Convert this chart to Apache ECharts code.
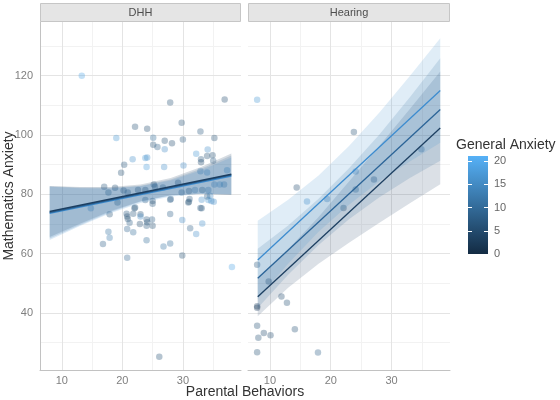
<!DOCTYPE html>
<html><head><meta charset="utf-8">
<script src="https://cdn.jsdelivr.net/npm/echarts@6/dist/echarts.min.js"></script>
<style>html,body{margin:0;padding:0;background:#fff}#c{width:560px;height:400px}</style>
</head><body><div id="c"></div>
<script>
// ---------- data ----------
const panels = ['DHH', 'Hearing'];
const xTitle = 'Parental Behaviors';
const yTitle = 'Mathematics Anxiety';
const legendTitle = 'General Anxiety';
const xMajorTicks = [10, 20, 30];
const xMinorTicks = [15, 25, 35];
const yMajorTicks = [40, 60, 80, 100, 120];
const yMinorTicks = [30, 50, 70, 90, 110, 130];
const legendTicks = [0, 5, 10, 15, 20];
const anxLimits = [0, 21.1];

const dhhX = [13.3,27.9,36.9,22.1,24.1,29.8,32.9,19.0,25.1,27.0,28.2,30.0,35.2,25.1,25.8,27.0,32.2,34.1,34.0,33.0,33.0,34.9,35.0,21.7,23.8,24.1,24.0,20.3,26.9,30.1,19.8,32.9,34.0,37.3,17.0,18.8,17.7,20.2,20.9,22.6,23.8,25.2,25.4,26.7,29.2,29.8,31.0,32.0,33.2,34.2,35.2,36.1,36.8,34.5,14.8,17.9,20.7,20.8,20.9,21.2,22.0,21.8,23.0,22.9,23.0,24.0,24.1,24.9,25.0,24.0,20.8,21.8,17.7,17.9,16.8,24.0,26.8,27.9,27.9,29.9,31.2,32.2,33.2,33.1,20.8,29.9,38.1,26.1,25.0,25.0,23.8,27.9,31.0,33.1,34.2,35.1,31.1,30.9,34.0,34.7,32.9,19.2,22.1,28.0];
const dhhY = [120.0,111.0,112.0,102.8,102.1,104.1,101.2,99.0,99.1,98.1,97.2,98.5,99.0,96.7,96.0,95.2,93.7,95.1,92.9,91.8,90.8,93.2,91.3,91.8,92.3,92.4,89.2,90.0,89.2,89.7,87.3,87.8,87.4,88.1,82.6,82.2,80.6,81.3,80.6,81.5,81.5,83.3,82.6,82.3,83.9,80.6,81.1,81.5,81.5,81.5,83.3,83.3,83.3,79.5,75.3,73.3,73.5,72.5,71.7,70.4,75.3,73.5,73.3,70.0,72.5,71.5,70.6,71.5,69.4,69.4,68.3,67.2,67.4,65.4,63.3,64.5,62.4,63.4,73.4,71.4,68.6,66.6,70.2,75.3,58.6,59.4,55.5,25.3,76.8,77.8,78.1,78.2,77.5,78.2,78.1,77.5,78.4,77.3,79.3,77.8,75.4,77.3,75.6,78.4];
const dhhAnx = [19,6,5,6,5,6,7,17,10,6,5,7,6,6,8,15,17,16,6,7,5,6,8,16,17,16,18,7,16,15,6,15,16,17,7,6,8,6,7,6,5,7,6,8,6,9,7,14,8,14,15,16,14,15,16,6,7,5,6,8,6,7,6,5,15,7,6,8,6,7,9,10,11,12,8,10,11,10,8,15,8,16,16,7,9,6,19,6,7,6,8,7,6,16,17,16,7,6,8,15,7,8,7,9];

const hearX = [7.9,23.8,14.4,24.1,27.1,24.1,34.9,16.1,19.4,22.1,7.9,9.8,11.9,12.8,7.9,7.9,7.9,9.0,8.1,10.1,14.1,7.9,17.9];
const hearY = [111.9,101.0,82.3,87.7,85.0,81.6,95.2,77.6,78.4,75.4,56.3,50.6,45.6,43.5,42.3,41.8,35.7,33.3,31.7,32.5,34.5,26.8,26.7];
const hearAnx = [17,6,5,15,7,10,12,16,14,6,7,5,5,6,4,3,6,5,6,5,6,6,8];

// fitted lines (x from 8 to 38)
const lineX = [8, 38];
const dhhLineLow = [74.2, 86.8];
const dhhLineMid = [73.9, 86.5];
const dhhLineHigh = [73.6, 86.2];
const hearLineLow = [45.5, 102.4];
const hearLineMid = [51.7, 108.6];
const hearLineHigh = [57.9, 115.0];

// confidence ribbons
const bandX = [8, 13, 18, 23, 28, 33, 38];
const dhhBandLowUp = [82.8, 82.5, 82.5, 83.3, 85.5, 89.2, 93.8];
const dhhBandLowDn = [65.6, 70.1, 74.3, 77.7, 79.7, 80.2, 79.8];
const dhhBandMidUp = [82.7, 82.3, 82.2, 82.9, 85.0, 88.6, 93.1];
const dhhBandMidDn = [65.1, 69.7, 74.0, 77.5, 79.6, 80.2, 79.9];
const dhhBandHighUp = [82.6, 82.1, 82.0, 82.7, 84.7, 88.1, 92.4];
const dhhBandHighDn = [64.6, 69.3, 73.6, 77.1, 79.3, 80.1, 80.0];
const hearBandLowUp = [52.1, 61.5, 72.4, 84.3, 96.4, 108.8, 121.4];
const hearBandLowDn = [38.9, 48.5, 56.6, 63.7, 70.4, 77.0, 83.4];
const hearBandMidUp = [61.7, 69.5, 78.5, 88.8, 100.2, 112.7, 125.9];
const hearBandMidDn = [41.7, 52.9, 62.9, 71.6, 79.0, 85.5, 91.3];
const hearBandHighUp = [71.1, 78.2, 86.4, 96.3, 107.6, 119.9, 132.6];
const hearBandHighDn = [44.7, 56.6, 67.4, 76.5, 84.4, 91.1, 97.4];

// ---------- styles ----------
const FONT = '"Liberation Sans", Arial, sans-serif';
const cLow = '#1d3f61', cMid = '#2b6497', cHigh = '#3d8ccf';
const xMin = 6.4, xMax = 39.6, yMin = 20.8, yMax = 138.1;

function pts(xs, ys, as) { return xs.map((x, i) => [x, ys[i], as[i]]); }
function linePts(ys) { return lineX.map((x, i) => [x, ys[i]]); }

function bandSeries(xi, yi, bands) {
  return {
    type: 'custom', xAxisIndex: xi, yAxisIndex: yi, z: 3, silent: true, clip: true,
    data: bands.map((b, i) => [bandX[0], b.dn[0], i]),
    renderItem: (params, api) => {
      const b = bands[params.dataIndex];
      const p = [];
      bandX.forEach((x, i) => p.push(api.coord([x, b.up[i]])));
      for (let i = bandX.length - 1; i >= 0; i--) p.push(api.coord([bandX[i], b.dn[i]]));
      return { type: 'polygon', shape: { points: p }, style: { fill: b.color, opacity: b.alpha } };
    }
  };
}
function lineSeries(xi, yi, ys, color, w) {
  return { type: 'line', xAxisIndex: xi, yAxisIndex: yi, data: linePts(ys), symbol: 'none', z: 4, silent: true,
    lineStyle: { color: color, width: w } };
}

function xAx(g, ticks, major) {
  return { gridIndex: g, type: 'value', min: xMin, max: xMax, z: major ? 1 : 0,
    axisLine: { show: major, onZero: false, lineStyle: { color: '#c2c2c2', width: 1 } },
    axisTick: { show: false, customValues: ticks },
    axisLabel: { show: major, customValues: ticks, color: '#7f7f7f', fontSize: 11, fontFamily: FONT, margin: 5 },
    splitLine: { show: true, showMinLine: true, showMaxLine: true, lineStyle: { color: major ? '#e4e4e4' : '#f2f2f2', width: 1 } } };
}
function yAx(g, ticks, major, showLine, showLabel) {
  return { gridIndex: g, type: 'value', min: yMin, max: yMax, z: major ? 1 : 0,
    axisLine: { show: showLine, onZero: false, lineStyle: { color: '#c2c2c2', width: 1 } },
    axisTick: { show: false, customValues: ticks },
    axisLabel: { show: showLabel, customValues: ticks, color: '#7f7f7f', fontSize: 11, fontFamily: FONT, margin: 7 },
    splitLine: { show: true, showMinLine: true, showMaxLine: true, lineStyle: { color: major ? '#e4e4e4' : '#f2f2f2', width: 1 } } };
}

const chart = echarts.init(document.getElementById('c'), null, { renderer: 'canvas' });
const option = {
  animation: false,
  backgroundColor: '#ffffff',
  textStyle: { fontFamily: FONT },
  grid: [
    { left: 40, top: 22, width: 201, height: 348 },
    { left: 248, top: 22, width: 202, height: 348 },
    { left: 468, top: 156, width: 20, height: 98 }
  ],
  xAxis: [xAx(0, xMajorTicks, true), xAx(0, xMinorTicks, false), xAx(1, xMajorTicks, true), xAx(1, xMinorTicks, false),
    { gridIndex: 2, type: 'category', data: ['anx'], show: false }],
  yAxis: [yAx(0, yMajorTicks, true, true, true), yAx(0, yMinorTicks, false, false, false),
    yAx(1, yMajorTicks, true, false, false), yAx(1, yMinorTicks, false, false, false),
    { gridIndex: 2, type: 'value', min: anxLimits[0], max: anxLimits[1], position: 'left', z: 10,
      axisLine: { show: false }, axisLabel: { show: false }, splitLine: { show: false },
      axisTick: { show: true, inside: true, length: 4, customValues: legendTicks, lineStyle: { color: '#ffffff', width: 1 } } },
    { gridIndex: 2, type: 'value', min: anxLimits[0], max: anxLimits[1], position: 'right', z: 10,
      axisLine: { show: false }, splitLine: { show: false },
      axisTick: { show: true, inside: true, length: 4, customValues: legendTicks, lineStyle: { color: '#ffffff', width: 1 } },
      axisLabel: { show: true, customValues: legendTicks, color: '#666666', fontSize: 11, fontFamily: FONT, margin: 6 } }
  ],
  visualMap: {
    type: 'continuous', show: false, min: anxLimits[0], max: anxLimits[1], dimension: 2,
    seriesIndex: [0, 1], inRange: { color: ['#132B43', '#56B1F7'] }
  },
  series: [
    { type: 'scatter', xAxisIndex: 0, yAxisIndex: 0, data: pts(dhhX, dhhY, dhhAnx), symbolSize: 6.5, z: 2, silent: true,
      itemStyle: { opacity: 0.34 } },
    { type: 'scatter', xAxisIndex: 2, yAxisIndex: 2, data: pts(hearX, hearY, hearAnx), symbolSize: 6.5, z: 2, silent: true,
      itemStyle: { opacity: 0.34 } },
    bandSeries(0, 0, [
      { up: dhhBandLowUp, dn: dhhBandLowDn, color: cLow, alpha: 0.18 },
      { up: dhhBandMidUp, dn: dhhBandMidDn, color: cMid, alpha: 0.18 },
      { up: dhhBandHighUp, dn: dhhBandHighDn, color: cHigh, alpha: 0.18 }
    ]),
    bandSeries(2, 2, [
      { up: hearBandLowUp, dn: hearBandLowDn, color: cLow, alpha: 0.16 },
      { up: hearBandMidUp, dn: hearBandMidDn, color: cMid, alpha: 0.16 },
      { up: hearBandHighUp, dn: hearBandHighDn, color: cHigh, alpha: 0.16 }
    ]),
    lineSeries(0, 0, dhhLineHigh, cHigh, 1.5),
    lineSeries(0, 0, dhhLineMid, cMid, 1.5),
    lineSeries(0, 0, dhhLineLow, cLow, 1.5),
    lineSeries(2, 2, hearLineHigh, cHigh, 1.3),
    lineSeries(2, 2, hearLineMid, cMid, 1.3),
    lineSeries(2, 2, hearLineLow, cLow, 1.3),
    { type: 'bar', xAxisIndex: 4, yAxisIndex: 4, data: [anxLimits[1]], barWidth: '100%', silent: true, z: 2,
      itemStyle: { color: new echarts.graphic.LinearGradient(0, 1, 0, 0, [
        { offset: 0, color: '#132B43' }, { offset: 1, color: '#56B1F7' }]) } }
  ],
  graphic: [
    { type: 'rect', shape: { x: 40.5, y: 3.5, width: 200, height: 18 }, style: { fill: '#e5e5e5', stroke: '#c6c6c6', lineWidth: 1 }, silent: true },
    { type: 'rect', shape: { x: 248.5, y: 3.5, width: 201, height: 18 }, style: { fill: '#e5e5e5', stroke: '#c6c6c6', lineWidth: 1 }, silent: true },
    { type: 'text', x: 140.5, y: 13, silent: true,
      style: { text: panels[0], align: 'center', verticalAlign: 'middle', font: '11px ' + FONT, fill: '#4d4d4d' } },
    { type: 'text', x: 349, y: 13, silent: true,
      style: { text: panels[1], align: 'center', verticalAlign: 'middle', font: '11px ' + FONT, fill: '#4d4d4d' } },
    { type: 'text', x: 245, y: 392, silent: true,
      style: { text: xTitle, align: 'center', verticalAlign: 'middle', font: '14px ' + FONT, fill: '#333333' } },
    { type: 'text', x: 9, y: 196, rotation: Math.PI / 2, silent: true,
      style: { text: yTitle, align: 'center', verticalAlign: 'middle', font: '14px ' + FONT, fill: '#333333' } },
    { type: 'text', x: 456, y: 145, silent: true,
      style: { text: legendTitle, align: 'left', verticalAlign: 'middle', font: '14px ' + FONT, fill: '#333333' } }
  ]
};
chart.setOption(option);
</script></body></html>
